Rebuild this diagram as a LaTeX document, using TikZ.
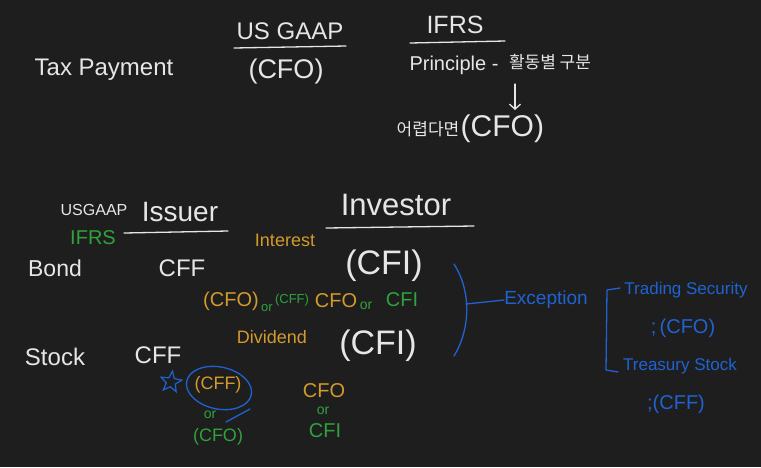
\documentclass[tikz,border=0pt]{standalone}
\usepackage{fontspec}
\setmainfont{Liberation Sans}
\newfontfamily\krfont{Noto Sans CJK KR}
\usepackage{tikz}
\usetikzlibrary{shapes.geometric, arrows.meta, positioning}

\definecolor{bgcol}{HTML}{1E1E1E}
\definecolor{ink}{HTML}{E6E6E6}
\definecolor{gold}{HTML}{D39A2C}
\definecolor{leaf}{HTML}{2FA23C}
\definecolor{sky}{HTML}{1F63D2}

\begin{document}
\begin{tikzpicture}[
    x=1pt, y=-1pt,
    wt/.style={text=ink, inner sep=0pt, font=\fontsize{#1}{#1}\selectfont},
    gd/.style={text=gold, inner sep=0pt, font=\fontsize{#1}{#1}\selectfont},
    gr/.style={text=leaf, inner sep=0pt, font=\fontsize{#1}{#1}\selectfont},
    bl/.style={text=sky, inner sep=0pt, font=\fontsize{#1}{#1}\selectfont},
    pen/.style={line width=1.3pt, line cap=round, line join=round, draw=#1},
    arr/.style={pen=ink, -{Straight Barb[length=5pt, width=11pt]}}
]
\fill[bgcol] (0,0) rectangle (761,467);
\useasboundingbox (0,0) rectangle (761,467);

% Tax payment header
\node[wt=24] (tax) at (104, 70) {Tax Payment};
\node[wt=24] (usg) at (290, 31) {US GAAP};
\node[wt=27] (uscfo) at (286, 72) {(CFO)};
\draw[pen=ink] (234, 48) -- (346, 46);
\node[wt=25] (ifrs) at (455, 25) {IFRS};
\draw[pen=ink] (410, 43) -- (505, 41);
\node[wt=20] (prin) at (454, 65) {Principle -};
\node[wt=17] (act) at (550, 62) {\krfont 활동별 구분};
\node[wt=17] (hard) at (428, 129) {\krfont 어렵다면};
\node[wt=30, right=1pt of hard] (hcfo) {(CFO)};
\coordinate (a1) at (515, 84);
\coordinate (a2) at (515, 110);
\draw[arr] (a1) -- (a2);

% Column heads
\node[wt=16] (usgaap) at (94, 210) {USGAAP};
\node[gr=20] (ifrs2) at (93, 238) {IFRS};
\node[wt=28] (iss) at (180, 212) {Issuer};
\draw[pen=ink] (124, 233) -- (228, 231);
\node[wt=31] (inv) at (396, 205) {Investor};
\draw[pen=ink] (326, 228) -- (474, 226);
\node[gd=18] (int) at (285, 240) {Interest};

% Bond row
\node[wt=23] (bond) at (55, 268) {Bond};
\node[wt=24] (bcff) at (182, 268) {CFF};
\node[wt=34] (bcfi) at (384, 266) {(CFI)};

% Dividend labels
\node[gd=20] (dcfo) at (231, 301) {(CFO)};
\node[gr=13] (dor) at (267, 308) {or};
\node[gr=13] (dcff) at (292, 300) {(CFF)};
\node[gd=20] (icfo) at (336, 301) {CFO};
\node[gr=14] (ior) at (366, 306) {or};
\node[gr=20] (icfi) at (402, 300) {CFI};
\node[gd=18] (div) at (272, 337) {Dividend};

% Stock row
\node[wt=24] (stk) at (55, 357) {Stock};
\node[wt=24] (scff) at (158, 355) {CFF};
\node[wt=34] (scfi) at (378, 346) {(CFI)};
\node[star, star points=5, star point ratio=2.3, draw=sky, line width=1.2pt,
      minimum size=22pt, inner sep=0pt, rotate=-8] (mark) at (171, 382) {};
\node[gd=18] (ccff) at (218, 385) {(CFF)};
\node[ellipse, draw=sky, line width=1.3pt, minimum width=66pt,
      minimum height=42pt, rotate=-12] (ring) at (219, 388) {};
\draw[pen=sky] (226, 422) -- (250, 409);
\node[gr=14] (cor) at (210, 415) {or};
\node[gr=18] (ccfo) at (218, 437) {(CFO)};
\node[gd=20] (vcfo) at (324, 391) {CFO};
\node[gr=14] (vor) at (323, 411) {or};
\node[gr=20] (vcfi) at (325, 431) {CFI};

% Exception branch
\draw[pen=sky] (454, 264) .. controls (472, 292) and (470, 330) .. (454, 356);
\coordinate (brace) at (466, 304);
\node[bl=19] (exc) at (546, 300) {Exception};
\draw[pen=sky] (brace) -- (exc.west);
\draw[pen=sky] (620, 288) -- (607, 290) -- (606, 370) -- (618, 372);
\node[bl=17] (trad) at (686, 290) {Trading Security};
\node[bl=20] (tcfo) at (683, 328) {;\,(CFO)};
\node[bl=17] (trea) at (680, 366) {Treasury Stock};
\node[bl=20] (tcff) at (676, 404) {;(CFF)};
\end{tikzpicture}
\end{document}
